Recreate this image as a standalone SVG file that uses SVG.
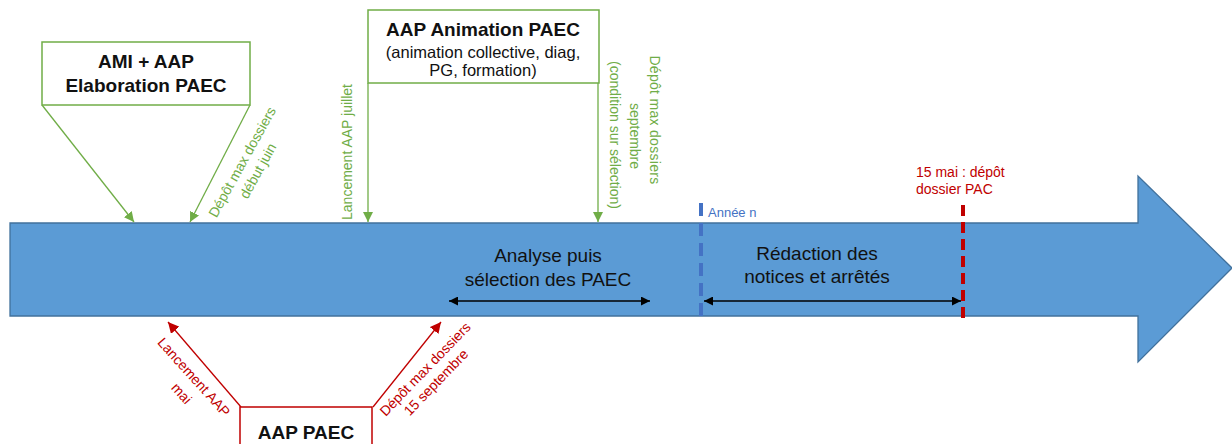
<svg xmlns="http://www.w3.org/2000/svg" width="1232" height="444" viewBox="0 0 1232 444">
<style>
.g{fill:#70AD47;font-family:"Liberation Sans",Arial,sans-serif;font-size:14px}
.r{fill:#C00000;font-family:"Liberation Sans",Arial,sans-serif;font-size:14px}
.b{font-family:"Liberation Sans",Arial,sans-serif;font-weight:bold;font-size:19px;fill:#111}
.n{font-family:"Liberation Sans",Arial,sans-serif;font-size:16.5px;fill:#111}
.in{font-family:"Liberation Sans",Arial,sans-serif;font-size:19px;fill:#111}
.gl{stroke:#70AD47;stroke-width:1.3;fill:none}
.rl{stroke:#C00000;stroke-width:1.3;fill:none}
</style>
<defs>
<marker id="ag" viewBox="0 0 10 10" refX="10" refY="5" markerWidth="10" markerHeight="10" markerUnits="userSpaceOnUse" orient="auto"><path d="M0,0L10,5L0,10z" fill="#70AD47"/></marker>
<marker id="ar" viewBox="0 0 10 10" refX="10" refY="5" markerWidth="11" markerHeight="11" markerUnits="userSpaceOnUse" orient="auto"><path d="M0,0L10,5L0,10z" fill="#C00000"/></marker>
<marker id="ak" viewBox="0 0 10 10" refX="10" refY="5" markerWidth="11" markerHeight="9" markerUnits="userSpaceOnUse" orient="auto-start-reverse"><path d="M0,0L10,5L0,10z" fill="#000"/></marker>
</defs>

<g id="timeline">
<path d="M10,223 H1138 V176 L1232,268 L1138,362 V316 H10 Z" fill="#5B9BD5" stroke="#41719C" stroke-width="1.3"/>
</g>

<g id="connectors">
<line class="gl" x1="42" y1="105" x2="134" y2="222" marker-end="url(#ag)"/>
<line class="gl" x1="250" y1="105" x2="190" y2="222" marker-end="url(#ag)"/>
<line class="gl" x1="368" y1="83" x2="368" y2="222" marker-end="url(#ag)"/>
<line class="gl" x1="598" y1="83" x2="598" y2="222" marker-end="url(#ag)"/>
<line class="rl" x1="241" y1="407" x2="168" y2="322" marker-end="url(#ar)"/>
<line class="rl" x1="373" y1="407" x2="441" y2="322" marker-end="url(#ar)"/>
<line stroke="#000" stroke-width="1.3" x1="449" y1="301" x2="650" y2="301" marker-start="url(#ak)" marker-end="url(#ak)"/>
<line stroke="#000" stroke-width="1.3" x1="704" y1="301" x2="961" y2="301" marker-start="url(#ak)" marker-end="url(#ak)"/>
</g>

<g id="ami-aap">
<rect x="42" y="42" width="208" height="63" fill="#fff" stroke="#70AD47" stroke-width="1.5"/>
<text class="b" x="146" y="68" text-anchor="middle">AMI + AAP</text>
<text class="b" x="146" y="92" text-anchor="middle">Elaboration PAEC</text>
</g>
<g id="label-juin">
<text class="g" transform="translate(242,162) rotate(-61)" text-anchor="middle"><tspan x="0" y="5">Dépôt max dossiers</tspan><tspan x="0" y="23">début juin</tspan></text>
</g>

<g id="aap-animation">
<rect x="368" y="10" width="231" height="73" fill="#fff" stroke="#70AD47" stroke-width="1.5"/>
<text class="b" x="483" y="36" text-anchor="middle">AAP Animation PAEC</text>
<text class="n" x="483" y="58" text-anchor="middle">(animation collective, diag,</text>
<text class="n" x="483" y="76" text-anchor="middle">PG, formation)</text>
</g>
<g id="label-juillet">
<text class="g" transform="translate(352,152) rotate(-90)" text-anchor="middle">Lancement AAP juillet</text>
</g>
<g id="label-septembre-green">
<text class="g" transform="translate(650,0) rotate(90)" text-anchor="middle"><tspan x="120" y="0" letter-spacing="0.3">Dépôt max dossiers</tspan><tspan x="136" y="20">septembre</tspan><tspan x="135" y="40">(condition sur sélection)</tspan></text>
</g>

<g id="aap-paec">
<rect x="240" y="407" width="132" height="50" fill="#fff" stroke="#C00000" stroke-width="1.5"/>
<text class="b" x="306" y="439" text-anchor="middle">AAP PAEC</text>
</g>
<g id="label-mai">
<text class="r" transform="translate(194,377) rotate(48)" text-anchor="middle"><tspan x="0" y="5">Lancement AAP</tspan><tspan x="4" y="25">mai</tspan></text>
</g>
<g id="label-15sept">
<text class="r" transform="translate(425,369) rotate(-46)" text-anchor="middle"><tspan x="0" y="5">Dépôt max dossiers</tspan><tspan x="-2" y="22">15 septembre</tspan></text>
</g>

<g id="analyse">
<text class="in" x="548" y="262" text-anchor="middle">Analyse puis</text>
<text class="in" x="548" y="286" text-anchor="middle">sélection des PAEC</text>
</g>

<g id="annee-n">
<line x1="701" y1="203" x2="701" y2="318" stroke="#4472C4" stroke-width="4" stroke-dasharray="13,7"/>
<text x="708" y="217" fill="#4472C4" font-family="'Liberation Sans',Arial,sans-serif" font-size="13">Année n</text>
</g>

<g id="redaction">
<text class="in" x="817" y="260" text-anchor="middle">Rédaction des</text>
<text class="in" x="817" y="283" text-anchor="middle">notices et arrêtés</text>
</g>

<g id="pac">
<line x1="963" y1="205" x2="963" y2="318" stroke="#C00000" stroke-width="4" stroke-dasharray="11,6"/>
<text class="r" x="916" y="177">15 mai : dépôt</text>
<text class="r" x="916" y="194">dossier PAC</text>
</g>
</svg>
